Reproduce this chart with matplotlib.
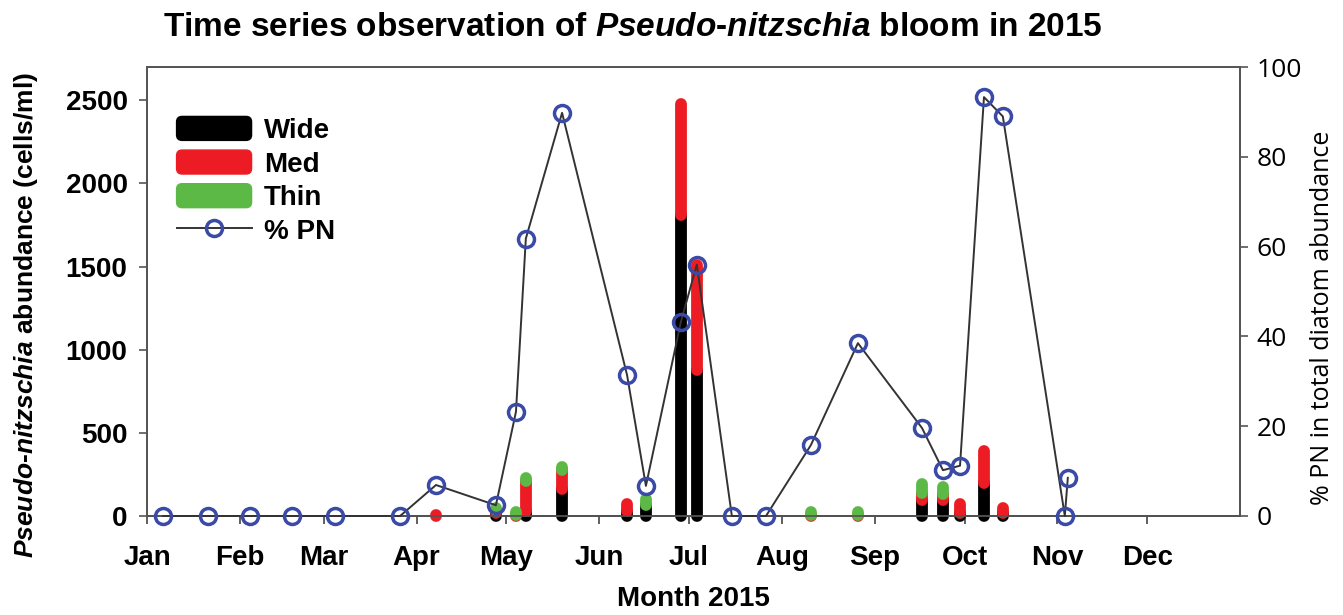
import numpy as np
import matplotlib.pyplot as plt
from matplotlib.patches import Patch, FancyBboxPatch
from matplotlib.lines import Line2D
from matplotlib.legend_handler import HandlerPatch

plt.rcParams['font.family'] = 'Liberation Sans'
plt.rcParams['mathtext.fontset'] = 'custom'
plt.rcParams['mathtext.it'] = 'Liberation Sans:italic:bold'
plt.rcParams['mathtext.rm'] = 'Liberation Sans:bold'

# sampling dates (day of year 2015)
days = np.array([5.3, 20.4, 34.4, 48.4, 62.8, 84.5, 96.5, 116.5, 123.2, 126.5,
                 138.6, 160.3, 166.6, 178.3, 183.6, 195.3, 206.7, 221.7, 237.4,
                 258.8, 265.8, 271.5, 279.5, 285.8, 306.5, 307.5])
pct_pn = np.array([0, 0, 0, 0, 0, 0, 6.9, 2.4, 23.2, 61.8,
                   89.8, 31.4, 6.7, 43.3, 56.0, 0, 0, 15.8, 38.5,
                   19.6, 10.2, 11.2, 93.3, 89.0, 0, 8.5])
wide = np.array([0, 0, 0, 0, 0, 0, 0, 20, 0, 30,
                 160, 30, 65, 1810, 880, 0, 0, 0, 0,
                 95, 95, 20, 200, 20, 0, 0])
med = np.array([0, 0, 0, 0, 0, 0, 8, 15, 8, 180,
                115, 45, 0, 670, 630, 0, 0, 5, 5,
                45, 40, 50, 190, 30, 0, 0])
thin = np.array([0, 0, 0, 0, 0, 0, 0, 15, 15, 20,
                 20, 0, 35, 0, 0, 0, 0, 20, 20,
                 50, 40, 0, 0, 0, 0, 0])

months = ['Jan', 'Feb', 'Mar', 'Apr', 'May', 'Jun', 'Jul', 'Aug', 'Sep', 'Oct', 'Nov', 'Dec']
month_len = [31, 28, 31, 30, 31, 30, 31, 31, 30, 31, 30, 31]
month_start = np.concatenate([[0], np.cumsum(month_len)[:-1]])

c_wide, c_med, c_thin = '#000000', '#ed1c24', '#5cb946'
c_circ = '#3a4aa6'

fig = plt.figure(figsize=(13.43, 6.15), dpi=100)
ax = fig.add_axes([0.1095, 0.161, 0.8138, 0.730])
ax2 = ax.twinx()

bw = 8.5
bottoms = [np.zeros_like(wide), wide, wide + med]
for vals, bot, col in zip([wide, med, thin], bottoms, [c_wide, c_med, c_thin]):
    m = vals > 0
    ax.vlines(days[m], bot[m], bot[m] + vals[m], colors=col, linewidth=bw,
              capstyle='round', clip_on=False, zorder=3)

mk = dict(marker='o', markersize=11.5, markerfacecolor='none',
          markeredgecolor=c_circ, markeredgewidth=2.5)
ax2.plot(days, pct_pn, color='#333333', linewidth=1.4, clip_on=False, zorder=4, **mk)

ax.set_xlim(0, 365)
ax.set_ylim(0, 2700)
ax2.set_ylim(0, 100)
ax.set_xticks(month_start)
ax.set_xticklabels(months, fontsize=20, fontweight='bold')
ax.set_yticks(np.arange(0, 2501, 500))
ax.set_yticklabels([str(v) for v in range(0, 2501, 500)], fontsize=20, fontweight='bold')
ax2.set_yticks(np.arange(0, 101, 20))
ax2.set_yticklabels([str(v) for v in range(0, 101, 20)], fontsize=19, family='Open Sans')

for a in (ax, ax2):
    for s in a.spines.values():
        s.set_color('#555555')
        s.set_linewidth(1.3)
ax.spines['bottom'].set_color('#222222')
ax.tick_params(axis='x', direction='out', length=6, width=1.2, color='#444444', pad=15)
ax.tick_params(axis='y', direction='out', length=6, width=1.2, color='#555555', pad=8)
ax2.tick_params(axis='y', direction='out', length=6, width=1.2, color='#555555', pad=6)

ax.set_xlabel('Month 2015', fontsize=20, fontweight='bold', labelpad=11)

fig.text(0.471, 0.955,
         r'Time series observation of $\mathit{Pseudo}$-$\mathit{nitzschia}$ bloom in 2015',
         fontsize=24, fontweight='bold', ha='center', va='center')
fig.text(0.019, 0.488, r'$\mathit{Pseudo}$-$\mathit{nitzschia}$ abundance (cells/ml)',
         fontsize=19, fontweight='bold', rotation=90, ha='center', va='center')
fig.text(0.985, 0.483, '% PN in total diatom abundance', fontsize=18,
         family='Open Sans', rotation=90, ha='center', va='center')


def rounded_patch(legend, orig_handle, xdescent, ydescent, width, height, fontsize):
    return FancyBboxPatch((-xdescent, -ydescent), width, height,
                          boxstyle='round,pad=0,rounding_size=4')


handles = [Patch(color=c_wide, label='Wide'),
           Patch(color=c_med, label='Med'),
           Patch(color=c_thin, label='Thin'),
           Line2D([], [], color='#333333', linewidth=1.4, label='% PN', **mk)]
ax2.legend(handles=handles, loc='upper left', bbox_to_anchor=(0.027, 0.89),
           frameon=False, prop={'weight': 'bold', 'size': 20}, handlelength=2.7,
           handleheight=0.95, labelspacing=0.22, handletextpad=0.45, borderpad=0,
           borderaxespad=0, numpoints=1,
           handler_map={Patch: HandlerPatch(patch_func=rounded_patch)})

fig.savefig('out.png', dpi=100)
